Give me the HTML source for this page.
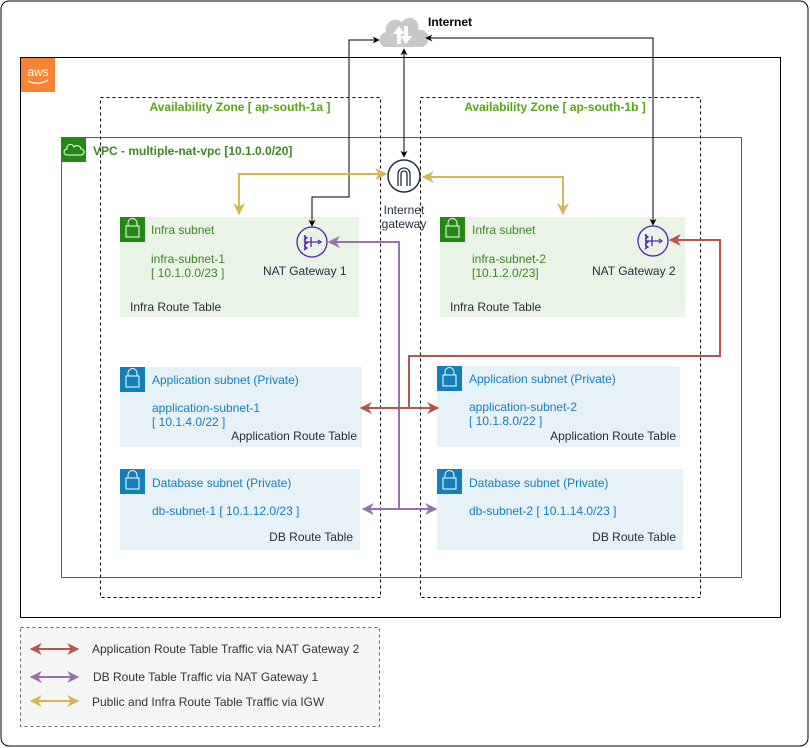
<!DOCTYPE html>
<html><head><meta charset="utf-8"><style>
html,body{margin:0;padding:0;background:#fff}
svg{display:block}
text{font-family:"Liberation Sans",Arial,sans-serif;font-size:12px}
</style></head><body>
<svg width="810" height="748" viewBox="0 0 810 748" xmlns="http://www.w3.org/2000/svg">
<defs>
<marker id="ab" viewBox="0 0 10 10" refX="9" refY="5" markerWidth="7" markerHeight="7" orient="auto-start-reverse"><path d="M0,0 L10,5 L0,10 L3,5 z" fill="#000"/></marker>
<marker id="ay" viewBox="0 0 10 10" refX="9" refY="5" markerWidth="6" markerHeight="6" orient="auto-start-reverse"><path d="M0,0 L10,5 L0,10 L3,5 z" fill="#D6B656"/></marker>
<marker id="ap" viewBox="0 0 10 10" refX="9" refY="5" markerWidth="6" markerHeight="6" orient="auto-start-reverse"><path d="M0,0 L10,5 L0,10 L3,5 z" fill="#9673A6"/></marker>
<marker id="ar" viewBox="0 0 10 10" refX="9" refY="5" markerWidth="6" markerHeight="6" orient="auto-start-reverse"><path d="M0,0 L10,5 L0,10 L3,5 z" fill="#B85450"/></marker>
</defs>
<rect x="1" y="1" width="807" height="745" rx="8" fill="#fff" stroke="#000"/>
<!-- AWS -->
<rect x="20.5" y="57.5" width="760" height="560" fill="none" stroke="#000"/>
<rect x="21" y="58" width="34" height="34" fill="#F58534"/>
<text x="38" y="76" text-anchor="middle" fill="#fff" style="font-size:12px">aws</text>
<path d="M28,81 Q38,86 48,80" stroke="#fff" fill="none" stroke-width="1.2"/>
<!-- VPC -->
<rect x="61.5" y="137.5" width="680" height="440" fill="none" stroke="#248814"/>
<rect x="62" y="138" width="24" height="24" fill="#248814"/>
<path d="M67,155 h14 a3,3 0 0 0 0,-6 a4,4 0 0 0 -7,-2 a3,3 0 0 0 -7,2 a3,3 0 0 0 0,6z" fill="none" stroke="#fff"/>
<text x="93" y="155" fill="#3F8624" font-weight="bold">VPC - multiple-nat-vpc [10.1.0.0/20]</text>
<!-- AZ -->
<rect x="100.5" y="97.5" width="280" height="500" fill="none" stroke="#000" stroke-dasharray="3,3"/>
<rect x="420.5" y="97.5" width="280" height="500" fill="none" stroke="#000" stroke-dasharray="3,3"/>
<text x="240" y="111" text-anchor="middle" fill="#5AA514" font-weight="bold">Availability Zone [ ap-south-1a ]</text>
<text x="555" y="111" text-anchor="middle" fill="#5AA514" font-weight="bold">Availability Zone [ ap-south-1b ]</text>
<!-- Infra subnets -->
<rect x="120" y="217" width="239" height="100" fill="#E9F3E6"/>
<rect x="120" y="217" width="25" height="25" fill="#248814"/>
<rect x="126" y="226" width="13" height="11" fill="none" stroke="#fff"/><path d="M128,226 v-3 a4,4 0 0 1 9,0 v3" fill="none" stroke="#fff"/>
<text x="151" y="234" fill="#3F8624">Infra subnet</text>
<text x="151" y="263" fill="#3F8624">infra-subnet-1</text>
<text x="151" y="277" fill="#3F8624">[ 10.1.0.0/23 ]</text>
<text x="130" y="311" fill="#232F3E">Infra Route Table</text>
<text x="263" y="275" fill="#232F3E">NAT Gateway 1</text>
<rect x="440" y="217" width="245" height="100" fill="#E9F3E6"/>
<rect x="440" y="217" width="25" height="25" fill="#248814"/>
<rect x="446" y="226" width="13" height="11" fill="none" stroke="#fff"/><path d="M448,226 v-3 a4,4 0 0 1 9,0 v3" fill="none" stroke="#fff"/>
<text x="472" y="234" fill="#3F8624">Infra subnet</text>
<text x="472" y="263" fill="#3F8624">infra-subnet-2</text>
<text x="472" y="277" fill="#3F8624">[10.1.2.0/23]</text>
<text x="450" y="311" fill="#232F3E">Infra Route Table</text>
<text x="592" y="275" fill="#232F3E">NAT Gateway 2</text>
<!-- NAT icons -->
<g fill="none" stroke="#4D27AA" stroke-width="1.3">
<circle cx="312" cy="242" r="15"/><path d="M305,235 v14 M305,242 h14 M311,237 v10 M304,236 l3,2 -3,2 M304,241 l3,2 -3,2 M304,246 l3,2 -3,2 M318,240 l3,2 -3,2"/>
<circle cx="653" cy="241" r="15"/><path d="M646,234 v14 M646,241 h14 M652,236 v10 M645,235 l3,2 -3,2 M645,240 l3,2 -3,2 M645,245 l3,2 -3,2 M659,239 l3,2 -3,2"/>
</g>
<!-- App/DB subnets -->
<g fill="#E6F2F8">
<rect x="120" y="367" width="242" height="80"/><rect x="437" y="366" width="243" height="81"/>
<rect x="120" y="469" width="240" height="81"/><rect x="437" y="469" width="246" height="81"/>
</g>
<g fill="#147EBA"><rect x="120" y="367" width="25" height="25"/><rect x="437" y="366" width="25" height="25"/><rect x="120" y="469" width="25" height="25"/><rect x="437" y="469" width="25" height="25"/></g>
<g fill="none" stroke="#fff">
<rect x="126" y="376" width="13" height="11"/><path d="M128,376 v-3 a4,4 0 0 1 9,0 v3"/>
<rect x="443" y="375" width="13" height="11"/><path d="M445,375 v-3 a4,4 0 0 1 9,0 v3"/>
<rect x="126" y="478" width="13" height="11"/><path d="M128,478 v-3 a4,4 0 0 1 9,0 v3"/>
<rect x="443" y="478" width="13" height="11"/><path d="M445,478 v-3 a4,4 0 0 1 9,0 v3"/>
</g>
<g fill="#147EBA">
<text x="152" y="384">Application subnet (Private)</text>
<text x="152" y="412">application-subnet-1</text>
<text x="152" y="426">[ 10.1.4.0/22 ]</text>
<text x="469" y="383">Application subnet (Private)</text>
<text x="469" y="411">application-subnet-2</text>
<text x="469" y="425">[ 10.1.8.0/22 ]</text>
<text x="152" y="487">Database subnet (Private)</text>
<text x="152" y="515">db-subnet-1 [ 10.1.12.0/23 ]</text>
<text x="469" y="487">Database subnet (Private)</text>
<text x="469" y="515">db-subnet-2 [ 10.1.14.0/23 ]</text>
</g>
<g fill="#232F3E" text-anchor="end">
<text x="357" y="440">Application Route Table</text>
<text x="676" y="440">Application Route Table</text>
<text x="353" y="541">DB Route Table</text>
<text x="676" y="541">DB Route Table</text>
</g>
<!-- Cloud -->
<path d="M384,47 a8,8 0 0 1 2,-15 a10,10 0 0 1 16,-10 a9,9 0 0 1 16,8 a8,8 0 0 1 4,17 z" fill="#C8C8C8"/>
<path d="M397,44 v-10 h-4 l6,-8 6,8 h-4 v10z M404,26 v10 h-4 l6,8 6,-8 h-4 v-10z" fill="#fff"/>
<text x="428" y="26" fill="#000" font-weight="bold">Internet</text>
<!-- IGW -->
<circle cx="404" cy="176" r="16" fill="#fff" stroke="#232F3E" stroke-width="1.5"/>
<path d="M398,186 v-12 a6,6 0 0 1 12,0 v12 M401,186 v-12 a3,3 0 0 1 6,0 v12" fill="none" stroke="#232F3E" stroke-width="1.3"/>
<text x="404" y="214" text-anchor="middle" fill="#232F3E">Internet</text>
<text x="404" y="228" text-anchor="middle" fill="#232F3E">gateway</text>
<!-- Black connectors -->
<g fill="none" stroke="#000" stroke-width="1">
<path d="M312,226 V197 H349 V40 H379" marker-start="url(#ab)" marker-end="url(#ab)"/>
<path d="M426,38 H653 V225" marker-start="url(#ab)" marker-end="url(#ab)"/>
<path d="M404,49 V157" marker-start="url(#ab)" marker-end="url(#ab)"/>
</g>
<!-- Yellow -->
<g fill="none" stroke="#D6B656" stroke-width="2">
<path d="M239,214 V174 H386" marker-start="url(#ay)" marker-end="url(#ay)"/>
<path d="M423,177 H563 V214" marker-start="url(#ay)" marker-end="url(#ay)"/>
</g>
<!-- Purple -->
<g fill="none" stroke="#9673A6" stroke-width="2">
<path d="M329,242 H399 V509" marker-start="url(#ap)"/>
<path d="M363,509 H436" marker-start="url(#ap)" marker-end="url(#ap)"/>
</g>
<!-- Red -->
<g fill="none" stroke="#B85450" stroke-width="2">
<path d="M670,240 H720 V356 H409 V408" marker-start="url(#ar)"/>
<path d="M361,408 H438" marker-start="url(#ar)" marker-end="url(#ar)"/>
</g>
<!-- Legend -->
<rect x="20.5" y="627.5" width="359" height="99" fill="#F5F5F5" stroke="#666" stroke-dasharray="3,3"/>
<path d="M31,649 H78" stroke="#B85450" stroke-width="2" marker-start="url(#ar)" marker-end="url(#ar)"/>
<path d="M31,677 H78" stroke="#9673A6" stroke-width="2" marker-start="url(#ap)" marker-end="url(#ap)"/>
<path d="M31,701 H78" stroke="#D6B656" stroke-width="2" marker-start="url(#ay)" marker-end="url(#ay)"/>
<g fill="#333">
<text x="92" y="653">Application Route Table Traffic via NAT Gateway 2</text>
<text x="93" y="681">DB Route Table Traffic via NAT Gateway 1</text>
<text x="92" y="706">Public and Infra Route Table Traffic via IGW</text>
</g>
</svg>
</body></html>
